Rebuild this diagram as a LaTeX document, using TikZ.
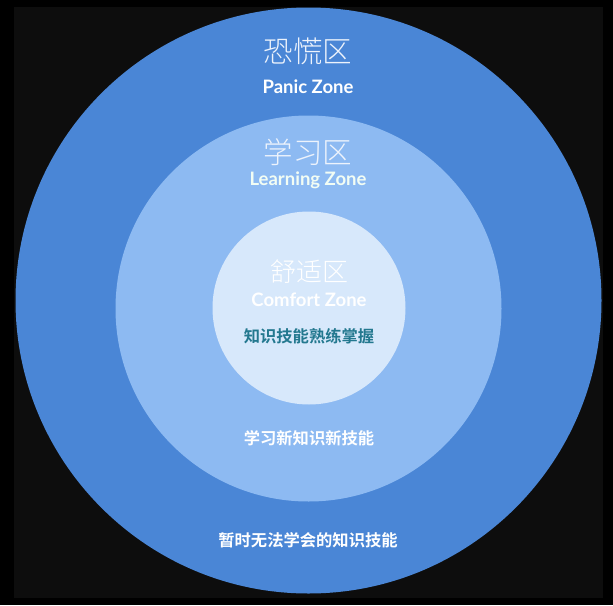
\documentclass[tikz,border=0pt]{standalone}
\usepackage{fontspec}
\usepackage{xcolor}
\newfontfamily\cjk{Noto Sans CJK SC}[BoldFont={Noto Sans CJK SC Bold}]
\newfontfamily\cjklight{Noto Sans CJK SC Light}
\newfontfamily\latin{Lato}
\definecolor{panicblue}{HTML}{4A86D6}
\definecolor{learnblue}{HTML}{8DBAF2}
\definecolor{comfortblue}{HTML}{D7E8FB}
\definecolor{frame}{HTML}{0D0D0D}
\definecolor{titlewhite}{HTML}{EDF3FC}
\definecolor{skillteal}{HTML}{23788F}
\usetikzlibrary{positioning}
\tikzset{
  zonetitle/.style={text=titlewhite,inner sep=0pt,font=\cjklight\fontsize{29.5}{31}\selectfont},
  zonename/.style={text=white,inner sep=0pt,font=\latin\bfseries\fontsize{18.5}{21}\selectfont},
  zonetext/.style={text=white,inner sep=0pt,font=\cjk\bfseries\fontsize{16.3}{18}\selectfont}
}
\begin{document}
\begin{tikzpicture}[x=1pt,y=-1pt]
\useasboundingbox (0,0) rectangle (613,605);
% background and frame
\fill[black](0,0) rectangle (613,605);
\fill[frame](14,7) rectangle (603,598);
% zones
\fill[panicblue](308.5,300.5) circle (293);
\fill[learnblue](308.5,308.5) circle (193);
\fill[comfortblue](309,308) circle (96.5);
% labels
\node[zonetitle](panic) at (308,51){恐慌区};
\node[zonename](panicen) at (308,87){Panic Zone};
\node[zonetitle](learn) at (308,152){学习区};
\node[zonename,text=titlewhite!80!green!20!white](learnen) at (308,180){Learning Zone};
\node[zonetitle,text=white,font=\cjklight\fontsize{26}{28}\selectfont](comfort) at (309,272){舒适区};
\node[zonename,text=white](comforten) at (309,300){Comfort Zone};
\node[zonetext,text=skillteal](comforttxt) at (309,336){知识技能熟练掌握};
\node[zonetext](learntxt) at (309,438){学习新知识新技能};
\node[zonetext](panictxt) at (308,540){暂时无法学会的知识技能};
\end{tikzpicture}
\end{document}
